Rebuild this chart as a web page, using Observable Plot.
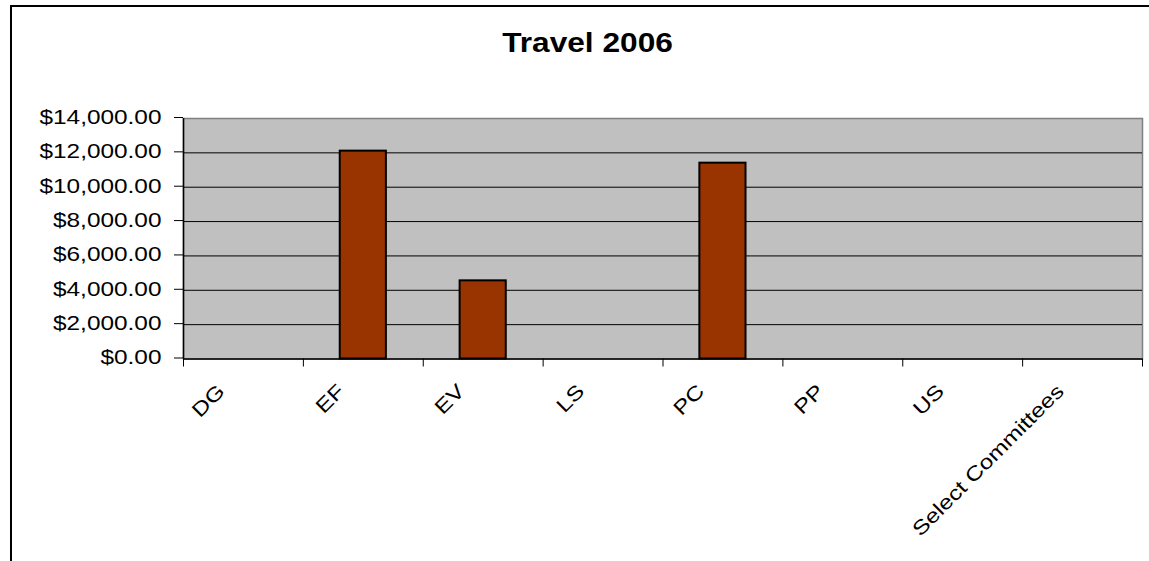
<!DOCTYPE html>
<html>
<head>
<meta charset="utf-8">
<script src="https://cdn.jsdelivr.net/npm/d3@7"></script>
<script src="https://cdn.jsdelivr.net/npm/@observablehq/plot@0.6"></script>
<style>
  html, body { margin: 0; padding: 0; background: #fff; overflow: hidden; width: 1149px; height: 561px; }
  body { position: relative; font-family: "Liberation Sans", Arial, sans-serif; }
  #border { position: absolute; left: 10px; top: 5px; width: 2000px; height: 2000px;
            border-left: 2px solid #000; border-top: 2px solid #000; }
  #title { position: absolute; left: 0; top: 29px; width: 1175px; text-align: center;
           font: bold 28px/28px "Liberation Sans", Arial, sans-serif; color: #000; }
  #title span { display: inline-block; transform: scaleX(1.13); }
  #chart { position: absolute; left: 12px; top: 88px; }
</style>
</head>
<body>
<div id="border"></div>
<div id="title"><span>Travel 2006</span></div>
<div id="chart"></div>
<script>
const categories = ["DG", "EF", "EV", "LS", "PC", "PP", "US", "Select Committees"];
const amounts = [0, 12100, 4550, 0, 11400, 0, 0, 0];
const yTicks = [0, 2000, 4000, 6000, 8000, 10000, 12000, 14000];
const gridTicks = [2000, 4000, 6000, 8000, 10000, 12000];

const data = categories.map((c, i) => ({category: c, amount: amounts[i]}));

const W = 1137, H = 473;
const mL = 171, mR = 7, mT = 30, mB = 202.5;
const step = (W - mL - mR) / categories.length;
const frameH = H - mT - mB;
const fs = 20;

const plot = Plot.plot({
  width: W,
  height: H,
  marginLeft: mL,
  marginRight: mR,
  marginTop: mT,
  marginBottom: mB,
  style: {fontFamily: "'Liberation Sans', Arial, sans-serif", fontSize: fs + "px", color: "#000", background: "transparent"},
  x: {type: "band", domain: categories, paddingInner: 0.615, paddingOuter: 0.3075, round: false, axis: null},
  y: {domain: [0, 14000], axis: null, label: null},
  marks: [
    Plot.frame({fill: "#C0C0C0", stroke: "#808080", strokeWidth: 1.5}),
    Plot.ruleY(gridTicks, {stroke: "#000", strokeWidth: 1}),
    Plot.barY(data, {x: "category", y: "amount", fill: "#993300", stroke: "#000", strokeWidth: 2,
      filter: d => d.amount > 0}),
    Plot.ruleY([0], {stroke: "#000", strokeWidth: 1.5}),
    Plot.ruleX([categories[0]], {dx: -step / 2, stroke: "#000", strokeWidth: 1.5}),
    Plot.ruleX(categories, {dx: -step / 2, insetTop: frameH, insetBottom: -8, stroke: "#000", strokeWidth: 1}),
    Plot.ruleX([categories[categories.length - 1]], {dx: step / 2, insetTop: frameH, insetBottom: -8, stroke: "#000", strokeWidth: 1}),
    Plot.axisY({ticks: yTicks, tickFormat: d3.format("$,.2f"), tickSize: 9, tickPadding: 13, label: null,
      fontSize: fs, stroke: "#000", fill: "#000", dy: -1}),
    Plot.text(categories, {x: d => d, frameAnchor: "bottom", rotate: -45, textAnchor: "end",
      lineAnchor: "middle", dx: -22, dy: 29, fontSize: fs, fill: "#000"})
  ]
});

plot.querySelectorAll("text").forEach(t => {
  const tr = t.getAttribute("transform") || "";
  t.setAttribute("transform", (tr + " scale(1.22,1)").trim());
});

document.getElementById("chart").appendChild(plot);
</script>
</body>
</html>
